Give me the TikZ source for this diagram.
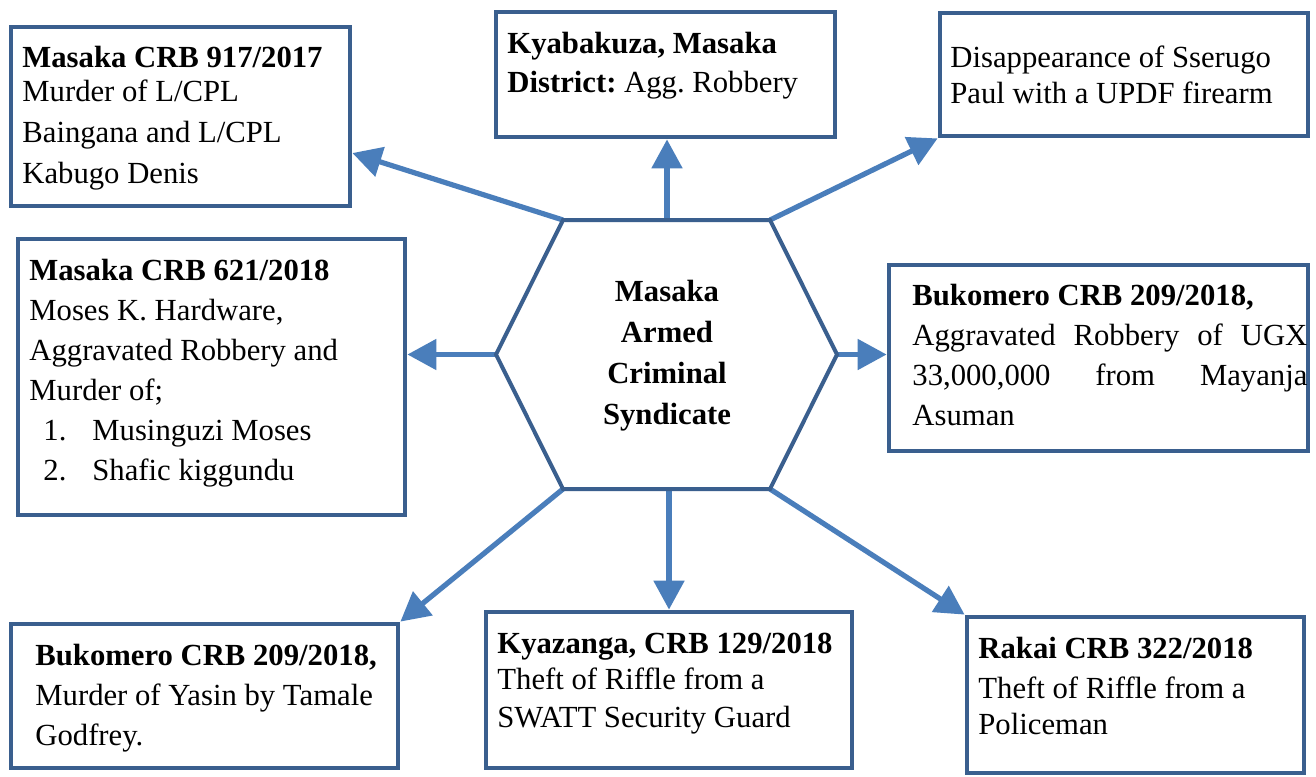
\documentclass[tikz,border=0pt]{standalone}
\usepackage{fontspec}
\setmainfont{Liberation Serif}
\usepackage{xcolor}
\usepackage{tikz}
\usetikzlibrary{arrows.meta,calc,fit}

\definecolor{framecol}{HTML}{3A5F8E}
\definecolor{linkcol}{HTML}{4A7EBB}

\tikzset{
  casebox/.style={draw=framecol, line width=2.4pt, inner sep=0pt, fill=white},
  casetext/.style={anchor=base west, inner sep=0pt, align=flush left},
  hubtext/.style={anchor=base, inner sep=0pt, align=center, text width=90pt,
    font=\fontsize{15.35}{20.5}\selectfont\bfseries},
  link/.style={draw=linkcol, line width=2.6pt, -{Triangle[length=14.5pt,width=15pt]}}
}

\begin{document}
\frenchspacing
\begin{tikzpicture}[x=0.5pt, y=-0.5pt, font=\fontsize{15.35}{20}\selectfont]
  \useasboundingbox[fill=white] (0,0) rectangle (1316,776);

  % Hexagon corners
  \coordinate (hTL) at (563,220);
  \coordinate (hT)  at (667,220);
  \coordinate (hTR) at (770,220);
  \coordinate (hR)  at (837,354.5);
  \coordinate (hBR) at (770,489);
  \coordinate (hB)  at (669,489);
  \coordinate (hBL) at (563,489);
  \coordinate (hL)  at (496,354.5);

  % Top row
  \node[casebox, fit={(11,27) (350,206)}] (crb917) {};
  \node[casetext, text width=165pt] (t917) at (22,67.7)
    {\textbf{Masaka CRB 917/2017}\\[-3pt]Murder of L/CPL\\[0.5pt]Baingana and L/CPL\\[0.5pt]Kabugo Denis};

  \node[casebox, fit={(496,12) (835,137)}] (kyab) {};
  \node[casetext, text width=165pt] (tkyab) at (507,53)
    {\textbf{Kyabakuza, Masaka}\\\textbf{District:} Agg. Robbery};

  \node[casebox, fit={(940,13) (1308,136)}] (sserugo) {};
  \node[casetext, text width=180pt] (tsserugo) at (950,67)
    {Disappearance of Sserugo\\[-2pt]Paul with a UPDF firearm};

  % Middle row
  \node[casebox, fit={(18,239) (405,515)}] (crb621) {};
  \node[casetext, text width=185pt] (t621) at (29,280)
    {\textbf{Masaka CRB 621/2018}\\Moses K. Hardware,\\Aggravated Robbery and\\Murder of;\\
     \hspace*{7pt}\makebox[24.5pt][l]{1.}Musinguzi Moses\\
     \hspace*{7pt}\makebox[24.5pt][l]{2.}Shafic kiggundu};

  \node[casebox, fit={(889,265) (1308,451)}] (bukomero) {};
  \node[casetext, text width=197.5pt] (tbukomero) at (912,305)
    {\textbf{Bukomero CRB 209/2018,}\\
     \makebox[197.5pt][s]{Aggravated Robbery of UGX}\\
     \makebox[197.5pt][s]{33,000,000 from Mayanja}\\
     Asuman};

  % Bottom row
  \node[casebox, fit={(11,624) (398,768)}] (yasin) {};
  \node[casetext, text width=185pt] (tyasin) at (35,665)
    {\textbf{Bukomero CRB 209/2018,}\\Murder of Yasin by Tamale\\Godfrey.};

  \node[casebox, fit={(486,612) (852,768)}] (kyazanga) {};
  \node[casetext, text width=175pt] (tkyazanga) at (497,653)
    {\textbf{Kyazanga, CRB 129/2018}\\[-2pt]Theft of Riffle from a\\[-1pt]SWATT Security Guard};

  \node[casebox, fit={(967,617) (1304,773)}] (rakai) {};
  \node[casetext, text width=160pt] (trakai) at (978,658)
    {\textbf{Rakai CRB 322/2018}\\Theft of Riffle from a\\[-2pt]Policeman};

  % Arrows out of the hexagon
  \draw[link] (hTL) -- (crb917.-12);
  \draw[link] (hT) -- (hT |- kyab.south);
  \draw[link] (hTR) -- (sserugo.south west);
  \draw[link] (hL) -- (hL -| crb621.east);
  \draw[link] (hR) -- (hR -| bukomero.west);
  \draw[link] (hBL) -- (yasin.north east);
  \draw[link] (hB) -- (hB |- kyazanga.north);
  \draw[link] (hBR) -- (rakai.north west);

  % Hexagon
  \draw[framecol, line width=2pt, fill=white, line join=miter]
    (hTL) -- (hTR) -- (hR) -- (hBR) -- (hBL) -- (hL) -- cycle;
  \node[hubtext] (hub) at (667,301) {Masaka\\Armed\\Criminal\\Syndicate};
\end{tikzpicture}
\end{document}
